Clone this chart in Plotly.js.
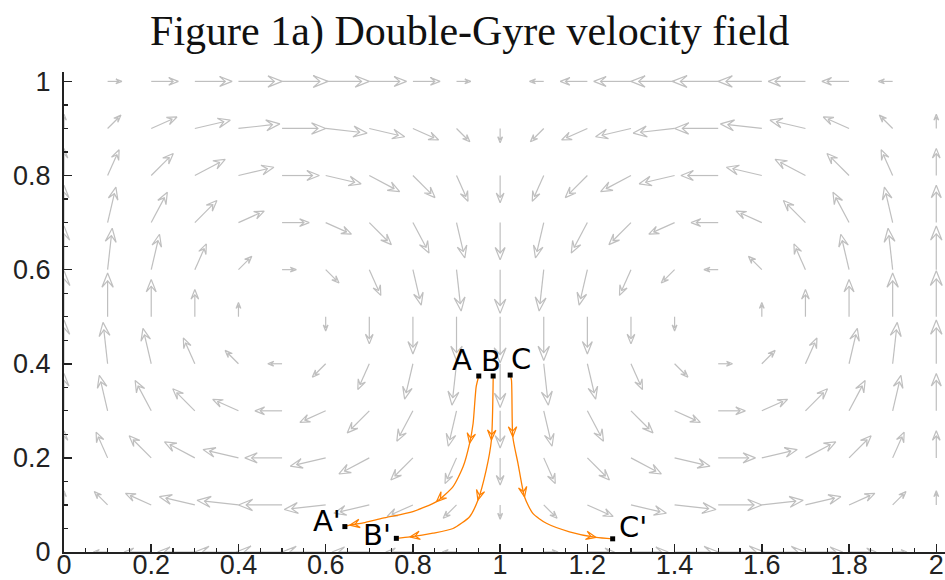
<!DOCTYPE html>
<html><head><meta charset="utf-8">
<script src="https://cdn.plot.ly/plotly-3.0.1.min.js"></script>
<style>html,body{margin:0;padding:0;background:#fff}</style>
</head><body><div id="chart" style="width:945px;height:580px"></div>
<script>
// ---------- data ----------
const gridX = [0,0.1,0.2,0.3,0.4,0.5,0.6,0.7,0.8,0.9,1,1.1,1.2,1.3,1.4,1.5,1.6,1.7,1.8,1.9,2];
const gridY = [0,0.1,0.2,0.3,0.4,0.5,0.6,0.7,0.8,0.9,1];

// horizontal velocity component, one row per gridY value
const fieldU = [
 [0,-.31,-.59,-.81,-.95,-1,-.95,-.81,-.59,-.31,0,.31,.59,.81,.95,1,.95,.81,.59,.31,0],
 [0,-.29,-.56,-.77,-.90,-.95,-.90,-.77,-.56,-.29,0,.29,.56,.77,.90,.95,.90,.77,.56,.29,0],
 [0,-.25,-.48,-.66,-.77,-.81,-.77,-.66,-.48,-.25,0,.25,.48,.66,.77,.81,.77,.66,.48,.25,0],
 [0,-.18,-.35,-.48,-.56,-.59,-.56,-.48,-.35,-.18,0,.18,.35,.48,.56,.59,.56,.48,.35,.18,0],
 [0,-.10,-.18,-.25,-.29,-.31,-.29,-.25,-.18,-.10,0,.10,.18,.25,.29,.31,.29,.25,.18,.10,0],
 [0,0,0,0,0,0,0,0,0,0,0,0,0,0,0,0,0,0,0,0,0],
 [0,.10,.18,.25,.29,.31,.29,.25,.18,.10,0,-.10,-.18,-.25,-.29,-.31,-.29,-.25,-.18,-.10,0],
 [0,.18,.35,.48,.56,.59,.56,.48,.35,.18,0,-.18,-.35,-.48,-.56,-.59,-.56,-.48,-.35,-.18,0],
 [0,.25,.48,.66,.77,.81,.77,.66,.48,.25,0,-.25,-.48,-.66,-.77,-.81,-.77,-.66,-.48,-.25,0],
 [0,.29,.56,.77,.90,.95,.90,.77,.56,.29,0,-.29,-.56,-.77,-.90,-.95,-.90,-.77,-.56,-.29,0],
 [0,.31,.59,.81,.95,1,.95,.81,.59,.31,0,-.31,-.59,-.81,-.95,-1,-.95,-.81,-.59,-.31,0]
];
// vertical velocity component, one row per gridY value
const fieldV = [
 [0,0,0,0,0,0,0,0,0,0,0,0,0,0,0,0,0,0,0,0,0],
 [.31,.29,.25,.18,.10,0,-.10,-.18,-.25,-.29,-.31,-.29,-.25,-.18,-.10,0,.10,.18,.25,.29,.31],
 [.59,.56,.48,.35,.18,0,-.18,-.35,-.48,-.56,-.59,-.56,-.48,-.35,-.18,0,.18,.35,.48,.56,.59],
 [.81,.77,.66,.48,.25,0,-.25,-.48,-.66,-.77,-.81,-.77,-.66,-.48,-.25,0,.25,.48,.66,.77,.81],
 [.95,.90,.77,.56,.29,0,-.29,-.56,-.77,-.90,-.95,-.90,-.77,-.56,-.29,0,.29,.56,.77,.90,.95],
 [1,.95,.81,.59,.31,0,-.31,-.59,-.81,-.95,-1,-.95,-.81,-.59,-.31,0,.31,.59,.81,.95,1],
 [.95,.90,.77,.56,.29,0,-.29,-.56,-.77,-.90,-.95,-.90,-.77,-.56,-.29,0,.29,.56,.77,.90,.95],
 [.81,.77,.66,.48,.25,0,-.25,-.48,-.66,-.77,-.81,-.77,-.66,-.48,-.25,0,.25,.48,.66,.77,.81],
 [.59,.56,.48,.35,.18,0,-.18,-.35,-.48,-.56,-.59,-.56,-.48,-.35,-.18,0,.18,.35,.48,.56,.59],
 [.31,.29,.25,.18,.10,0,-.10,-.18,-.25,-.29,-.31,-.29,-.25,-.18,-.10,0,.10,.18,.25,.29,.31],
 [0,0,0,0,0,0,0,0,0,0,0,0,0,0,0,0,0,0,0,0,0]
];

// particle trajectories (A -> A', B -> B', C -> C')
const pathAx = [0.951,0.945,0.938,0.930,0.915,0.892,0.854,0.800,0.731,0.686,0.655,0.644];
const pathAy = [0.374,0.351,0.273,0.231,0.181,0.139,0.107,0.086,0.072,0.062,0.057,0.054];
const pathBx = [0.984,0.984,0.980,0.968,0.949,0.930,0.892,0.846,0.793,0.762];
const pathBy = [0.374,0.365,0.238,0.174,0.110,0.075,0.050,0.040,0.032,0.029];
const pathCx = [1.023,1.026,1.029,1.041,1.056,1.075,1.106,1.159,1.220,1.258];
const pathCy = [0.376,0.365,0.245,0.188,0.117,0.082,0.061,0.043,0.031,0.028];
const headsA = [3,6,10];
const headsB = [2,4,8];
const headsC = [2,4,8];
const startNames = ['A','B','C'];
const endNames = ["A'","B'","C'"];

const xTicks = [0,0.2,0.4,0.6,0.8,1,1.2,1.4,1.6,1.8,2];
const yTicks = [0,0.2,0.4,0.6,0.8,1];
const titleText = 'Figure 1a) Double-Gyre velocity field';

// ---------- layout geometry ----------
const W = 945, H = 580;
const M = {l:64, r:0, t:72, b:28};
const XR = [0, 2.02], YR = [0, 1.02];
const pxX = (W - M.l - M.r) / (XR[1] - XR[0]);
const pxY = (H - M.t - M.b) / (YR[1] - YR[0]);
const ARROW_SCALE = 46; // px per unit speed

function addHead(xs, ys, tx, ty, ex, ey, h, hw) {
  const nx = -ey, ny = ex;
  const d = (px, py) => [tx + px / pxX, ty + py / pxY];
  const wl = d(-ex*h + nx*hw, -ey*h + ny*hw);
  const wr = d(-ex*h - nx*hw, -ey*h - ny*hw);
  const nt = d(-ex*h*0.55, -ey*h*0.55);
  const pts = [wl, [tx,ty], wr, nt, wl];
  pts.forEach(p => { xs.push(p[0]); ys.push(p[1]); });
  xs.push(null); ys.push(null);
}

const ax = [], ay = [];
gridY.forEach((gy, r) => {
  gridX.forEach((gx, c) => {
    const dxp = fieldU[r][c] * ARROW_SCALE, dyp = fieldV[r][c] * ARROW_SCALE;
    const L = Math.hypot(dxp, dyp);
    if (L < 0.5) return;
    const ex = dxp / L, ey = dyp / L;
    const h = 0.28 * L + 2, hw = 0.4 * h;
    const tx = gx + dxp / pxX, ty = gy + dyp / pxY;
    ax.push(gx, tx - ex*h*0.55/pxX, null);
    ay.push(gy, ty - ey*h*0.55/pxY, null);
    addHead(ax, ay, tx, ty, ex, ey, h, hw);
  });
});

const paths = [[pathAx,pathAy,headsA],[pathBx,pathBy,headsB],[pathCx,pathCy,headsC]];
const ox = [], oy = [];
paths.forEach(([px, py, hs]) => {
  hs.forEach(i => {
    const dxp = (px[i] - px[i-1]) * pxX, dyp = (py[i] - py[i-1]) * pxY;
    const L = Math.hypot(dxp, dyp);
    addHead(ox, oy, px[i], py[i], dxp/L, dyp/L, 10, 4.2);
  });
});

const traces = [
  {x: ax, y: ay, type:'scatter', mode:'lines', line:{color:'#bfbfbf', width:1.2}, hoverinfo:'skip', connectgaps:false},
];
paths.forEach(([px, py]) => {
  traces.push({x: px, y: py, type:'scatter', mode:'lines', line:{color:'#ff8000', width:1.3, shape:'spline', smoothing:0.6}, hoverinfo:'skip'});
});
traces.push({x: ox, y: oy, type:'scatter', mode:'lines', line:{color:'#ff8000', width:1.2}, hoverinfo:'skip', connectgaps:false});
traces.push({
  x: paths.map(p => p[0][0]).concat(paths.map(p => p[0][p[0].length-1])),
  y: paths.map(p => p[1][0]).concat(paths.map(p => p[1][p[1].length-1])),
  type:'scatter', mode:'markers', marker:{symbol:'square', size:5, color:'#000'}, hoverinfo:'skip', cliponaxis:false
});

const startShift = [[-17,16],[-2,15],[11,16]];
const endShift = [[-18,6],[-19,3],[20,12]];
const annotations = [];
paths.forEach((p, k) => {
  annotations.push({x:p[0][0], y:p[1][0], xref:'x', yref:'y', text:startNames[k], showarrow:false,
    xshift:startShift[k][0], yshift:startShift[k][1], font:{family:'DejaVu Sans', size:29, color:'#000'}});
  const n = p[0].length - 1;
  annotations.push({x:p[0][n], y:p[1][n], xref:'x', yref:'y', text:endNames[k], showarrow:false,
    xshift:endShift[k][0], yshift:endShift[k][1], font:{family:'DejaVu Sans', size:29, color:'#000'}});
});

const axisCommon = {
  showgrid:false, zeroline:false, showline:true, linecolor:'#222', linewidth:2,
  ticks:'inside', ticklen:8, tickwidth:1.5, tickcolor:'#222',
  tickfont:{family:'Liberation Sans', size:27, color:'#222'},
  minor:{ticks:'inside', ticklen:4, tickwidth:1.2, tickcolor:'#222', dtick:0.05},
  fixedrange:true
};

const layout = {
  width:W, height:H, margin:M, paper_bgcolor:'#fff', plot_bgcolor:'#fff',
  showlegend:false, hovermode:false,
  title:{text:titleText, x:0.497, xref:'container', xanchor:'center', y:0.948, yref:'container', yanchor:'middle',
         font:{family:'Liberation Serif', size:42, color:'#111'}},
  xaxis: Object.assign({}, axisCommon, {range:XR, tickvals:xTicks, ticktext:xTicks.map(String), ticklabelstandoff:-12}),
  yaxis: Object.assign({}, axisCommon, {range:YR, tickvals:yTicks, ticktext:yTicks.map(String), ticklabelstandoff:6}),
  annotations: annotations
};

Plotly.newPlot('chart', traces, layout, {displayModeBar:false, staticPlot:true});
</script></body></html>
